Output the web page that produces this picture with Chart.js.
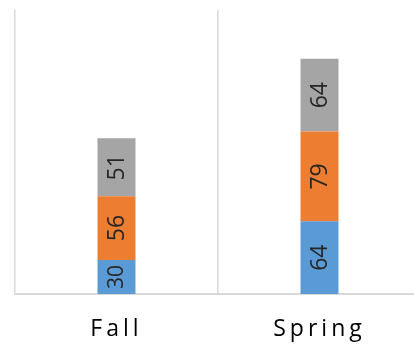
<!DOCTYPE html>
<html>
<head>
<meta charset="utf-8">
<script src="https://cdn.jsdelivr.net/npm/chart.js@4"></script>
<style>
  html, body { margin: 0; padding: 0; background: #fff; overflow: hidden; }
  canvas { display: block; }
</style>
</head>
<body>
<canvas id="chart" width="421" height="347"></canvas>
<script>
const categories = ["Fall", "Spring"];
const seriesNames = ["Series 1", "Series 2", "Series 3"];
const series1 = [30, 64];
const series2 = [56, 79];
const series3 = [51, 64];
const colors = ["#5B9BD5", "#ED7D31", "#A5A5A5"];

// letter spacing only for the axis labels
const spacing = {
  id: "spacing",
  beforeDraw(chart) { chart.ctx.letterSpacing = "4px"; },
  beforeDatasetsDraw(chart) { chart.ctx.letterSpacing = "0px"; }
};

// rotated value labels in the middle of each segment, shrunk in short segments
const barLabels = {
  id: "barLabels",
  afterDatasetsDraw(chart) {
    const ctx = chart.ctx;
    ctx.save();
    ctx.fillStyle = "#262626";
    ctx.textAlign = "center";
    ctx.textBaseline = "middle";
    chart.data.datasets.forEach((ds, i) => {
      chart.getDatasetMeta(i).data.forEach((bar, j) => {
        const h = Math.abs(bar.base - bar.y);
        const size = Math.min(23, Math.round(h * 0.62));
        ctx.font = size + "px 'Open Sans', sans-serif";
        ctx.save();
        ctx.translate(bar.x + 1, (bar.y + bar.base) / 2);
        ctx.rotate(-Math.PI / 2);
        ctx.fillText(String(ds.data[j]), 0, 0);
        ctx.restore();
      });
    });
    ctx.restore();
  }
};

new Chart(document.getElementById("chart"), {
  type: "bar",
  data: {
    labels: categories,
    datasets: [series1, series2, series3].map((d, i) => ({
      label: seriesNames[i],
      data: d,
      backgroundColor: colors[i],
      categoryPercentage: 1,
      barPercentage: 0.187
    }))
  },
  options: {
    responsive: false,
    animation: false,
    layout: { padding: { top: 10, left: 15, right: 0, bottom: 5 } },
    plugins: { legend: { display: false }, tooltip: { enabled: false } },
    scales: {
      x: {
        stacked: true,
        afterFit(scale) { scale.height = 48; },
        grid: { offset: true, color: "#d9d9d9", lineWidth: 1.5, drawTicks: false },
        border: { color: "#d9d9d9", width: 2 },
        ticks: {
          padding: 22,
          color: "#000",
          font: { family: "'Open Sans', sans-serif", size: 23 }
        }
      },
      y: {
        stacked: true,
        display: false,
        min: 0,
        max: 250
      }
    }
  },
  plugins: [spacing, barLabels]
});
</script>
</body>
</html>
